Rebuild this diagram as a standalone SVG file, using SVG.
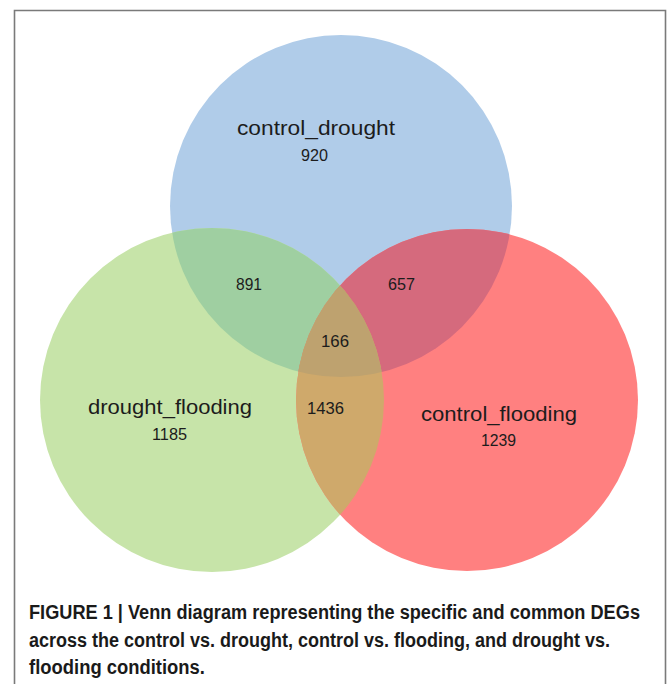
<svg xmlns="http://www.w3.org/2000/svg" width="670" height="684" viewBox="0 0 670 684">
  <style>
    .lbl { font-family: "Liberation Sans", Arial, sans-serif; fill: #1c1c1c; }
    .big { font-size: 20px; }
    .num { font-size: 16px; }
    .cap { font-family: "Liberation Sans", Arial, sans-serif; font-weight: bold; font-size: 19.5px; fill: #1a1a1a; }
  </style>
  <defs>
    <clipPath id="cB"><circle cx="341" cy="206" r="171"/></clipPath>
    <clipPath id="cG"><circle cx="212" cy="400" r="172"/></clipPath>
    <clipPath id="cR"><circle cx="467" cy="400" r="171"/></clipPath>
  </defs>
  <rect x="0" y="0" width="670" height="684" fill="#ffffff"/>
  <path d="M14.5 700 V10.5 H665.5 V700" fill="none" stroke="#7a7a7a" stroke-width="1.6"/>

  <g id="venn">
    <g id="set-control_drought"><circle cx="341" cy="206" r="171" fill="#b0cce9"/></g>
    <g id="set-drought_flooding"><circle cx="212" cy="400" r="172" fill="#c7e4a9"/></g>
    <g id="set-control_flooding"><circle cx="467" cy="400" r="171" fill="#ff8080"/></g>
    <g id="overlap-bg" clip-path="url(#cB)"><circle cx="212" cy="400" r="172" fill="#9fcfa1"/></g>
    <g id="overlap-br" clip-path="url(#cB)"><circle cx="467" cy="400" r="171" fill="#d56a7d"/></g>
    <g id="overlap-gr" clip-path="url(#cG)"><circle cx="467" cy="400" r="171" fill="#cfa96b"/></g>
    <g clip-path="url(#cB)"><g id="overlap-all" clip-path="url(#cG)"><circle cx="467" cy="400" r="171" fill="#bea26f"/></g></g>
  </g>

  <g id="labels">
    <text class="lbl big" x="237" y="135" textLength="158" lengthAdjust="spacingAndGlyphs">control_drought</text>
    <text class="lbl num" x="301" y="161" textLength="27" lengthAdjust="spacingAndGlyphs">920</text>
    <text class="lbl num" x="236" y="290" textLength="26" lengthAdjust="spacingAndGlyphs">891</text>
    <text class="lbl num" x="388" y="290" textLength="27" lengthAdjust="spacingAndGlyphs">657</text>
    <text class="lbl num" x="321" y="347" textLength="28" lengthAdjust="spacingAndGlyphs">166</text>
    <text class="lbl num" x="307" y="414" textLength="37" lengthAdjust="spacingAndGlyphs">1436</text>
    <text class="lbl big" x="88" y="414" textLength="164" lengthAdjust="spacingAndGlyphs">drought_flooding</text>
    <text class="lbl num" x="152" y="440" textLength="35" lengthAdjust="spacingAndGlyphs">1185</text>
    <text class="lbl big" x="421" y="421" textLength="156" lengthAdjust="spacingAndGlyphs">control_flooding</text>
    <text class="lbl num" x="481" y="446" textLength="35" lengthAdjust="spacingAndGlyphs">1239</text>
  </g>

  <g id="caption">
    <text class="cap" x="29" y="619" textLength="611" lengthAdjust="spacingAndGlyphs">FIGURE 1 | Venn diagram representing the specific and common DEGs</text>
    <text class="cap" x="29" y="647" textLength="581" lengthAdjust="spacingAndGlyphs">across the control vs. drought, control vs. flooding, and drought vs.</text>
    <text class="cap" x="29" y="674" textLength="176" lengthAdjust="spacingAndGlyphs">flooding conditions.</text>
  </g>
</svg>
